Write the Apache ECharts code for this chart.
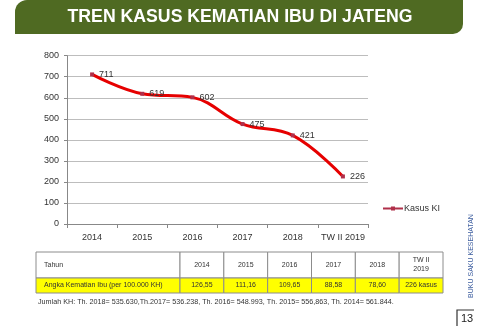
<!DOCTYPE html>
<html>
<head>
<meta charset="utf-8">
<script src="https://cdn.jsdelivr.net/npm/echarts@6/dist/echarts.min.js"></script>
<style>
html,body{margin:0;padding:0;background:#fff;}
#chart{width:480px;height:326px;}
</style>
</head>
<body>
<div id="chart"></div>
<script>
// ---- data ----
const titleText = 'TREN KASUS KEMATIAN IBU DI JATENG';
const categories = ['2014', '2015', '2016', '2017', '2018', 'TW II 2019'];
const kasusKI = [711, 619, 602, 475, 421, 226];
const seriesName = 'Kasus KI';
const yMin = 0, yMax = 800, yInterval = 100;
const tableHeaderLabel = 'Tahun';
const tableRowLabel = 'Angka Kematian Ibu (per 100.000 KH)';
const tableYears = ['2014', '2015', '2016', '2017', '2018', 'TW II\n2019'];
const akiValues = ['126,55', '111,16', '109,65', '88,58', '78,60', '226 kasus'];
const footnote = 'Jumlah KH: Th. 2018= 535.630,Th.2017= 536.238, Th. 2016= 548.993, Th. 2015= 556,863, Th. 2014= 561.844.';
const sideText = 'BUKU SAKU KESEHATAN';
const pageNumber = '13';

// ---- layout ----
const FONT = '"Liberation Sans", Arial, sans-serif';
const chart = echarts.init(document.getElementById('chart'), null, {renderer: 'canvas'});

const tblLeft = 36, tblFirstColRight = 180, tblRight = 443;
const tblTop = 252, tblMid = 278, tblBottom = 293;
const colW = (tblRight - tblFirstColRight) / tableYears.length;
const border = '#8c8c8c';

const graphics = [];
// banner
graphics.push({
  type: 'rect', shape: {x: 15, y: 0, width: 448, height: 34, r: [12, 0, 10, 0]},
  style: {fill: '#4f6a22'}, z: 1
});
graphics.push({
  type: 'text', x: 240, y: 17, z: 2,
  scaleX: 0.93, originX: 0, originY: 0,
  style: {text: titleText, fill: '#ffffff', font: 'bold 19px ' + FONT, textAlign: 'center', textVerticalAlign: 'middle'}
});
// table: header row
graphics.push({type: 'rect', shape: {x: tblLeft, y: tblTop, width: tblFirstColRight - tblLeft, height: tblMid - tblTop}, style: {fill: '#fff', stroke: border, lineWidth: 1}});
graphics.push({type: 'text', x: tblLeft + 8, y: (tblTop + tblMid) / 2, style: {text: tableHeaderLabel, fill: '#333', font: '7px ' + FONT, textVerticalAlign: 'middle'}});
graphics.push({type: 'rect', shape: {x: tblLeft, y: tblMid, width: tblFirstColRight - tblLeft, height: tblBottom - tblMid}, style: {fill: '#ffff00', stroke: border, lineWidth: 1}});
graphics.push({type: 'text', x: tblLeft + 8, y: (tblMid + tblBottom) / 2, style: {text: tableRowLabel, fill: '#333', font: '7px ' + FONT, textVerticalAlign: 'middle'}});
tableYears.forEach((yr, i) => {
  const x0 = tblFirstColRight + i * colW;
  graphics.push({type: 'rect', shape: {x: x0, y: tblTop, width: colW, height: tblMid - tblTop}, style: {fill: '#fff', stroke: border, lineWidth: 1}});
  graphics.push({type: 'text', x: x0 + colW / 2, y: (tblTop + tblMid) / 2, style: {text: yr, fill: '#333', font: '7px ' + FONT, textAlign: 'center', textVerticalAlign: 'middle', lineHeight: 9}});
  graphics.push({type: 'rect', shape: {x: x0, y: tblMid, width: colW, height: tblBottom - tblMid}, style: {fill: '#ffff00', stroke: border, lineWidth: 1}});
  graphics.push({type: 'text', x: x0 + colW / 2, y: (tblMid + tblBottom) / 2, style: {text: akiValues[i], fill: '#333', font: '7px ' + FONT, textAlign: 'center', textVerticalAlign: 'middle'}});
});
// footnote
graphics.push({type: 'text', x: 38, y: 302, style: {text: footnote, fill: '#333', font: '7.2px ' + FONT, textVerticalAlign: 'middle'}});
// side text
graphics.push({type: 'text', x: 471, y: 256, rotation: Math.PI / 2, style: {text: sideText, fill: '#3f5fa0', font: '7px ' + FONT, textAlign: 'center', textVerticalAlign: 'middle'}});
// page number bracket
graphics.push({type: 'polyline', shape: {points: [[457, 326], [457, 310], [474, 310]]}, style: {stroke: '#333', lineWidth: 1.2, fill: null}});
graphics.push({type: 'text', x: 467, y: 319, style: {text: pageNumber, fill: '#222', font: '11px ' + FONT, textAlign: 'center', textVerticalAlign: 'middle'}});

const option = {
  animation: false,
  backgroundColor: '#ffffff',
  textStyle: {fontFamily: FONT},
  grid: {left: 67, right: 112, top: 55.7, bottom: 102, containLabel: false},
  legend: {
    data: [{name: seriesName, icon: 'path://M0,2 H8 V1 H12 V2 H20 V4 H12 V5 H8 V4 H0 Z'}],
    left: 378, top: 199, itemWidth: 20, itemHeight: 5, itemGap: 2,
    textStyle: {fontSize: 9, color: '#333', fontFamily: FONT, padding: [0, 0, 0, -4]}
  },
  xAxis: {
    type: 'category', data: categories, boundaryGap: true,
    axisLine: {lineStyle: {color: '#888', width: 1}},
    axisTick: {show: true, length: 4, lineStyle: {color: '#888'}},
    axisLabel: {color: '#333', fontSize: 9, margin: 9, interval: 0, fontFamily: FONT}
  },
  yAxis: {
    type: 'value', min: yMin, max: yMax, interval: yInterval,
    axisLine: {show: true, lineStyle: {color: '#888', width: 1}},
    axisTick: {show: true, length: 3, lineStyle: {color: '#888'}},
    axisLabel: {color: '#333', fontSize: 9, margin: 8, fontFamily: FONT},
    splitLine: {lineStyle: {color: '#bdbdbd', width: 1}}
  },
  series: [{
    name: seriesName, type: 'line', data: kasusKI, smooth: 0.4,
    color: '#e60000',
    lineStyle: {color: '#e60000', width: 3},
    itemStyle: {color: '#b0304a'},
    symbol: 'rect', symbolSize: 4, showSymbol: true,
    label: {show: true, position: 'right', distance: 5, color: '#333', fontSize: 9, fontFamily: FONT}
  }],
  graphic: graphics
};
chart.setOption(option);
</script>
</body>
</html>
